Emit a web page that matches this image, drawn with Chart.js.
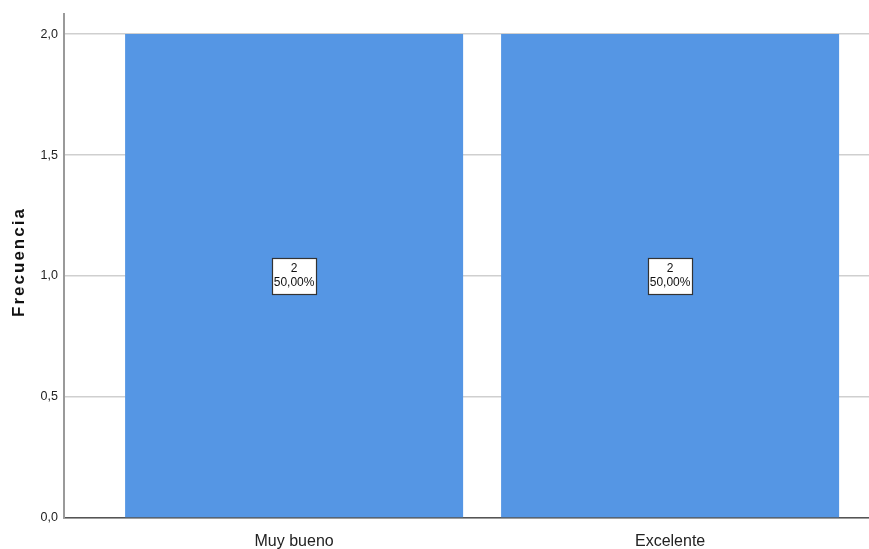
<!DOCTYPE html>
<html>
<head>
<meta charset="utf-8">
<script src="https://cdn.jsdelivr.net/npm/chart.js@4"></script>
<style>
html,body{margin:0;padding:0;background:#fff;}
#wrap{width:869px;height:549px;position:relative;}
</style>
</head>
<body>
<div id="wrap"><canvas id="c" width="869" height="549"></canvas></div>
<script>
const categories = ["Muy bueno", "Excelente"];
const counts = [2, 2];
const percentLabels = ["50,00%", "50,00%"];
const yTicks = [0, 0.5, 1.0, 1.5, 2.0];
const yTitle = "Frecuencia";

const fmt = v => v.toFixed(1).replace('.', ',');

const labelPlugin = {
  id: 'boxLabels',
  afterDatasetsDraw(chart) {
    const ctx = chart.ctx;
    const xs = chart.scales.x, ys = chart.scales.y;
    ctx.save();
    counts.forEach((v, i) => {
      const cx = xs.getPixelForValue(i);
      const cy = ys.getPixelForValue(v / 2);
      const w = 44, h = 36;
      ctx.fillStyle = '#ffffff';
      ctx.fillRect(Math.round(cx - w / 2) + 0.5, Math.round(cy - h / 2) + 0.5, w, h);
      ctx.strokeStyle = '#333333';
      ctx.lineWidth = 1.2;
      ctx.strokeRect(Math.round(cx - w / 2) + 0.5, Math.round(cy - h / 2) + 0.5, w, h);
      ctx.fillStyle = '#111';
      ctx.font = '12px "Liberation Sans", Arial, sans-serif';
      ctx.textAlign = 'center';
      ctx.textBaseline = 'middle';
      ctx.fillText(String(v), cx, cy - 7);
      ctx.fillText(percentLabels[i], cx, cy + 7);
    });
    // y axis title
    const ca = chart.chartArea;
    ctx.translate(19, (ca.top + ca.bottom) / 2 - 4);
    ctx.rotate(-Math.PI / 2);
    ctx.font = 'bold 17px "Liberation Sans", Arial, sans-serif';
    if ('letterSpacing' in ctx) ctx.letterSpacing = '2px';
    ctx.fillStyle = '#111';
    ctx.textAlign = 'center';
    ctx.textBaseline = 'middle';
    ctx.fillText(yTitle, 0, 0);
    ctx.restore();
  }
};

new Chart(document.getElementById('c'), {
  type: 'bar',
  data: {
    datasets: [{
      data: categories.map((c, i) => ({ x: i, y: counts[i] })),
      backgroundColor: 'rgb(85,150,228)',
      borderWidth: 0,
      barPercentage: 0.899,
      categoryPercentage: 1.0
    }]
  },
  options: {
    responsive: false,
    animation: false,
    devicePixelRatio: 1,
    layout: { padding: { top: 14, right: 0, left: 0, bottom: 0 } },
    plugins: { legend: { display: false }, tooltip: { enabled: false } },
    scales: {
      x: {
        type: 'linear',
        offset: false,
        min: -0.612,
        max: 1.529,
        grid: { display: false, drawTicks: false, offset: false },
        border: { display: true, color: '#555555', width: 1.5 },
        afterBuildTicks: s => { s.ticks = categories.map((c, i) => ({ value: i })); },
        ticks: {
          callback: (v) => categories[v] ?? '',
          color: '#222',
          font: { family: '"Liberation Sans", Arial, sans-serif', size: 16 },
          padding: 14,
          maxRotation: 0,
          autoSkip: false
        },
        afterFit: s => { s.height = 31; }
      },
      y: {
        min: 0,
        max: 2.083,
        afterBuildTicks: s => { s.ticks = yTicks.map(v => ({ value: v })); },
        grid: { color: '#cfcfcf', lineWidth: 1.5, drawTicks: false },
        border: { display: true, color: '#9a9a9a', width: 2 },
        ticks: {
          callback: v => fmt(v),
          color: '#222',
          font: { family: '"Liberation Sans", Arial, sans-serif', size: 12.5 },
          padding: 6
        },
        title: { display: false },
        afterFit: s => { s.width = 64; }
      }
    }
  },
  plugins: [labelPlugin]
});
</script>
</body>
</html>
